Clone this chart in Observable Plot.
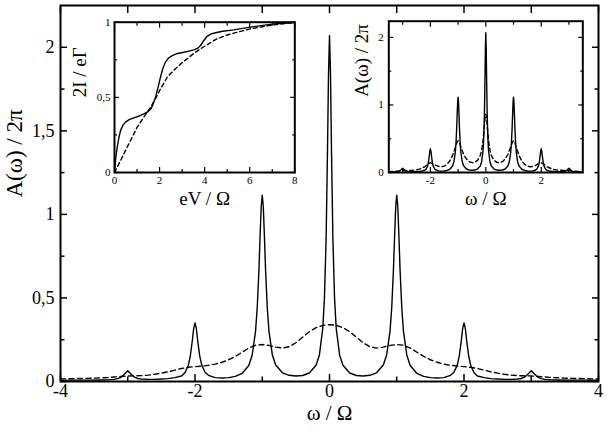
<!DOCTYPE html>
<html>
<head>
<meta charset="utf-8">
<script src="https://cdn.jsdelivr.net/npm/d3@7"></script>
<script src="https://cdn.jsdelivr.net/npm/@observablehq/plot@0.6"></script>
<style>
  html, body { margin: 0; padding: 0; background: white; }
  #wrap { position: relative; width: 607px; height: 431px; }
  #wrap svg text { font-family: 'Liberation Serif', 'Times New Roman', 'DejaVu Serif', serif !important; }
</style>
</head>
<body>
<div id="wrap"></div>
<script>
// ---------- Main panel: A(ω)/2π vs ω/Ω ----------
const mainSolidX = [-4.0,-3.8,-3.6,-3.4,-3.3,-3.2,-3.15,-3.1,-3.05,-3.0,-2.95,-2.9,-2.85,-2.8,-2.7,-2.6,-2.5,-2.4,-2.3,-2.2,-2.15,-2.1,-2.07,-2.04,-2.02,-2.0,-1.98,-1.96,-1.93,-1.9,-1.85,-1.8,-1.7,-1.6,-1.5,-1.4,-1.3,-1.2,-1.15,-1.1,-1.075,-1.05,-1.03,-1.015,-1.0,-0.985,-0.97,-0.95,-0.925,-0.9,-0.85,-0.8,-0.7,-0.6,-0.5,-0.4,-0.3,-0.2,-0.15,-0.1,-0.075,-0.05,-0.03,-0.015,0,0.015,0.03,0.05,0.075,0.1,0.15,0.2,0.3,0.4,0.5,0.6,0.7,0.8,0.85,0.9,0.925,0.95,0.97,0.985,1.0,1.015,1.03,1.05,1.075,1.1,1.15,1.2,1.3,1.4,1.5,1.6,1.7,1.8,1.85,1.9,1.93,1.96,1.98,2.0,2.02,2.04,2.07,2.1,2.15,2.2,2.3,2.4,2.5,2.6,2.7,2.8,2.85,2.9,2.95,3.0,3.05,3.1,3.15,3.2,3.3,3.4,3.6,3.8,4.0];
const mainSolidY = [0.007,0.008,0.008,0.009,0.010,0.013,0.017,0.025,0.043,0.064,0.044,0.026,0.018,0.015,0.013,0.013,0.015,0.017,0.023,0.033,0.052,0.096,0.151,0.244,0.316,0.351,0.316,0.245,0.153,0.098,0.055,0.037,0.023,0.021,0.023,0.031,0.048,0.096,0.157,0.300,0.440,0.661,0.893,1.049,1.115,1.049,0.893,0.661,0.440,0.300,0.159,0.099,0.052,0.037,0.033,0.036,0.051,0.097,0.159,0.318,0.500,0.861,1.373,1.836,2.069,1.836,1.373,0.861,0.500,0.318,0.159,0.097,0.051,0.036,0.033,0.037,0.052,0.099,0.159,0.300,0.440,0.661,0.893,1.049,1.115,1.049,0.893,0.661,0.440,0.300,0.157,0.096,0.048,0.031,0.023,0.021,0.023,0.037,0.055,0.098,0.153,0.245,0.316,0.351,0.316,0.244,0.151,0.096,0.052,0.033,0.023,0.017,0.015,0.013,0.013,0.015,0.018,0.026,0.044,0.064,0.043,0.025,0.017,0.013,0.010,0.009,0.008,0.008,0.007];

const mainDashedX = [-4.0,-3.9,-3.8,-3.7,-3.6,-3.5,-3.4,-3.3,-3.2,-3.1,-3.0,-2.9,-2.8,-2.7,-2.6,-2.5,-2.4,-2.3,-2.2,-2.1,-2.0,-1.9,-1.8,-1.7,-1.6,-1.5,-1.4,-1.3,-1.2,-1.1,-1.0,-0.9,-0.8,-0.7,-0.6,-0.5,-0.4,-0.3,-0.2,-0.1,0,0.1,0.2,0.3,0.4,0.5,0.6,0.7,0.8,0.9,1.0,1.1,1.2,1.3,1.4,1.5,1.6,1.7,1.8,1.9,2.0,2.1,2.2,2.3,2.4,2.5,2.6,2.7,2.8,2.9,3.0,3.1,3.2,3.3,3.4,3.5,3.6,3.7,3.8,3.9,4.0];
const mainDashedY = [0.015,0.016,0.017,0.018,0.019,0.020,0.022,0.024,0.027,0.030,0.033,0.034,0.035,0.038,0.043,0.050,0.058,0.068,0.078,0.085,0.089,0.092,0.097,0.104,0.115,0.130,0.150,0.175,0.200,0.217,0.221,0.216,0.206,0.200,0.208,0.232,0.265,0.298,0.322,0.336,0.340,0.336,0.322,0.298,0.265,0.232,0.208,0.200,0.206,0.216,0.221,0.217,0.200,0.175,0.150,0.130,0.115,0.104,0.097,0.092,0.089,0.085,0.078,0.068,0.058,0.050,0.043,0.038,0.035,0.034,0.033,0.030,0.027,0.024,0.022,0.020,0.019,0.018,0.017,0.016,0.015];

const mainXMajor = [-4, -2, 0, 2, 4];
const mainXLabels = ["-4", "-2", "0", "2", "4"];
const mainXMinor = [-3, -1, 1, 3];
const mainYMajor = [0, 0.5, 1, 1.5, 2];
const mainYLabels = ["0", "0,5", "1", "1,5", "2"];
const mainYMinor = [0.25, 0.75, 1.25, 1.75];
const mainXTitle = "ω / Ω";
const mainYTitle = "A(ω) / 2π";

// ---------- Left inset: 2I/eΓ vs eV/Ω ----------
const ivSolidX = [0,0.05,0.12,0.2,0.27,0.38,0.49,0.65,0.86,1.1,1.3,1.5,1.6,1.7,1.82,1.93,2.04,2.15,2.26,2.4,2.56,2.8,3.08,3.3,3.52,3.7,3.82,3.95,4.1,4.3,4.48,4.8,5.29,6.03,7.07,8.0];
const ivSolidY = [0,0.09,0.168,0.235,0.28,0.315,0.335,0.352,0.364,0.376,0.39,0.405,0.42,0.45,0.50,0.565,0.634,0.695,0.734,0.762,0.778,0.792,0.80,0.808,0.816,0.828,0.845,0.875,0.905,0.922,0.93,0.94,0.949,0.967,0.989,0.998];
const ivDashedX = [0,0.27,0.56,0.86,1.0,1.3,1.6,1.89,2.0,2.34,2.5,2.78,3.0,3.22,3.5,3.82,4.0,4.55,5.0,5.29,6.03,7.07,8.0];
const ivDashedY = [0,0.08,0.168,0.257,0.30,0.368,0.434,0.512,0.545,0.634,0.66,0.70,0.73,0.756,0.79,0.823,0.84,0.89,0.915,0.927,0.956,0.983,0.998];
const ivXMajor = [0, 2, 4, 6, 8];
const ivXLabels = ["0", "2", "4", "6", "8"];
const ivXMinor = [1, 3, 5, 7];
const ivYMajor = [0, 0.5, 1];
const ivYLabels = ["0", "0,5", "1"];
const ivYMinor = [0.25, 0.75];
const ivXTitle = "eV / Ω";
const ivYTitle = "2I / eΓ";

// ---------- Right inset: A(ω)/2π vs ω/Ω ----------
const inDashedX = [-3.5,-3.2,-3.0,-2.8,-2.6,-2.4,-2.2,-2.1,-2.0,-1.9,-1.8,-1.7,-1.6,-1.5,-1.4,-1.3,-1.2,-1.1,-1.05,-1.0,-0.95,-0.9,-0.8,-0.7,-0.6,-0.5,-0.4,-0.3,-0.2,-0.15,-0.1,-0.06,-0.03,0,0.03,0.06,0.1,0.15,0.2,0.3,0.4,0.5,0.6,0.7,0.8,0.9,0.95,1.0,1.05,1.1,1.2,1.3,1.4,1.5,1.6,1.7,1.8,1.9,2.0,2.1,2.2,2.4,2.6,2.8,3.0,3.2,3.5];
const inDashedY = [0.012,0.02,0.03,0.03,0.035,0.05,0.085,0.12,0.145,0.13,0.105,0.09,0.085,0.095,0.12,0.17,0.25,0.37,0.44,0.47,0.44,0.38,0.27,0.20,0.16,0.145,0.15,0.18,0.25,0.33,0.47,0.65,0.80,0.865,0.80,0.65,0.47,0.33,0.25,0.18,0.15,0.145,0.16,0.20,0.27,0.38,0.44,0.47,0.44,0.37,0.25,0.17,0.12,0.095,0.085,0.09,0.105,0.13,0.145,0.12,0.085,0.05,0.035,0.03,0.03,0.02,0.012];
const inXMajor = [-2, 0, 2];
const inXLabels = ["-2", "0", "2"];
const inXMinor = [-3, -1, 1, 3];
const inYMajor = [0, 1, 2];
const inYLabels = ["0", "1", "2"];
const inYMinor = [0.5, 1.5];
const inXTitle = "ω / Ω";
const inYTitle = "A(ω) / 2π";

// ---------- helpers ----------
const rows = (xs, ys) => xs.map((x, i) => ({x, y: ys[i]}));
const blank = () => "";
const font = "Liberation Serif";

function boxAxes(o) {
  const lab = (vals, labels) => d => labels[vals.indexOf(d)];
  const sw = o.tickStroke;
  const common = {label: null, strokeWidth: sw, fontFamily: font};
  return [
    Plot.axisX(o.xMajor, {...common, anchor: "bottom", tickSize: -o.major, tickPadding: o.major + o.padX, tickFormat: lab(o.xMajor, o.xLabels), fontSize: o.fontSize}),
    Plot.axisX(o.xMinor, {...common, anchor: "bottom", tickSize: -o.minor, tickFormat: blank}),
    Plot.axisX(o.xMajor, {...common, anchor: "top", tickSize: -o.major, tickFormat: blank}),
    Plot.axisX(o.xMinor, {...common, anchor: "top", tickSize: -(o.topMinor ?? o.minor), tickFormat: blank}),
    Plot.axisY(o.yMajor, {...common, anchor: "left", tickSize: -o.major, tickPadding: o.major + o.padY, tickFormat: lab(o.yMajor, o.yLabels), fontSize: o.fontSize}),
    Plot.axisY(o.yMinor, {...common, anchor: "left", tickSize: -o.minor, tickFormat: blank}),
    Plot.axisY(o.yMajor, {...common, anchor: "right", tickSize: -o.major, tickFormat: blank}),
    Plot.axisY(o.yMinor, {...common, anchor: "right", tickSize: -o.minor, tickFormat: blank})
  ];
}

const wrap = document.getElementById("wrap");

// ---------- main plot ----------
const main = Plot.plot({
  width: 607, height: 431,
  marginLeft: 60, marginRight: 9, marginTop: 5, marginBottom: 50,
  x: {domain: [-4, 4]},
  y: {domain: [0, 2.25]},
  style: {fontSize: "18px", color: "black", background: "white"},
  marks: [
    Plot.line(rows(mainDashedX, mainDashedY), {x: "x", y: "y", stroke: "black", strokeWidth: 1.4, strokeDasharray: "5,3.5", clip: true}),
    Plot.line(rows(mainSolidX, mainSolidY), {x: "x", y: "y", stroke: "black", strokeWidth: 1.4, clip: true}),
    ...boxAxes({xMajor: mainXMajor, xLabels: mainXLabels, xMinor: mainXMinor, topMinor: 7,
                yMajor: mainYMajor, yLabels: mainYLabels, yMinor: mainYMinor,
                major: 7, minor: 4.5, padX: 3, padY: 6, fontSize: 18, tickStroke: 1.5}),
    Plot.frame({stroke: "black", strokeWidth: 2}),
    Plot.text([mainXTitle], {text: d => d, frameAnchor: "bottom", dy: 38.5, fontSize: 21, fontFamily: font}),
    Plot.text([mainYTitle], {text: d => d, frameAnchor: "left", dx: -46, dy: 4, rotate: -90, fontSize: 23, fontFamily: font})
  ]
});
wrap.appendChild(main);

// ---------- left inset ----------
const inset1 = Plot.plot({
  width: 240, height: 205,
  marginLeft: 44, marginRight: 15.7, marginTop: 11.7, marginBottom: 43,
  x: {domain: [0, 8]},
  y: {domain: [0, 1]},
  style: {fontSize: "11px", color: "black", background: "none", position: "absolute", left: "70px", top: "10px", overflow: "visible"},
  marks: [
    Plot.line(rows(ivDashedX, ivDashedY), {x: "x", y: "y", stroke: "black", strokeWidth: 1.4, strokeDasharray: "4,3", clip: true}),
    Plot.line(rows(ivSolidX, ivSolidY), {x: "x", y: "y", stroke: "black", strokeWidth: 1.4, clip: true}),
    ...boxAxes({xMajor: ivXMajor, xLabels: ivXLabels, xMinor: ivXMinor,
                yMajor: ivYMajor, yLabels: ivYLabels, yMinor: ivYMinor,
                major: 5, minor: 3, padX: 4, padY: 4, fontSize: 11, tickStroke: 1.2}),
    Plot.frame({stroke: "black", strokeWidth: 2}),
    Plot.text([ivXTitle], {text: d => d, frameAnchor: "bottom", dy: 32, fontSize: 19, fontFamily: font}),
    Plot.text([ivYTitle], {text: d => d, frameAnchor: "left", dx: -35, rotate: -90, fontSize: 19, fontFamily: font})
  ]
});
wrap.appendChild(inset1);

// ---------- right inset ----------
const inset2 = Plot.plot({
  width: 255, height: 205,
  marginLeft: 48.3, marginRight: 12.7, marginTop: 10.7, marginBottom: 43,
  x: {domain: [-3.5, 3.5]},
  y: {domain: [0, 2.24]},
  style: {fontSize: "11px", color: "black", background: "none", position: "absolute", left: "340px", top: "10px", overflow: "visible"},
  marks: [
    Plot.line(rows(inDashedX, inDashedY), {x: "x", y: "y", stroke: "black", strokeWidth: 1.4, strokeDasharray: "4,3", clip: true}),
    Plot.line(rows(mainSolidX, mainSolidY), {x: "x", y: "y", stroke: "black", strokeWidth: 1.4, clip: true}),
    ...boxAxes({xMajor: inXMajor, xLabels: inXLabels, xMinor: inXMinor,
                yMajor: inYMajor, yLabels: inYLabels, yMinor: inYMinor,
                major: 5, minor: 3, padX: 4, padY: 5, fontSize: 11, tickStroke: 1.2}),
    Plot.frame({stroke: "black", strokeWidth: 2}),
    Plot.text([inXTitle], {text: d => d, frameAnchor: "bottom", dy: 32, fontSize: 19, fontFamily: font}),
    Plot.text([inYTitle], {text: d => d, frameAnchor: "left", dx: -27, rotate: -90, fontSize: 19, fontFamily: font})
  ]
});
wrap.appendChild(inset2);
</script>
</body>
</html>
